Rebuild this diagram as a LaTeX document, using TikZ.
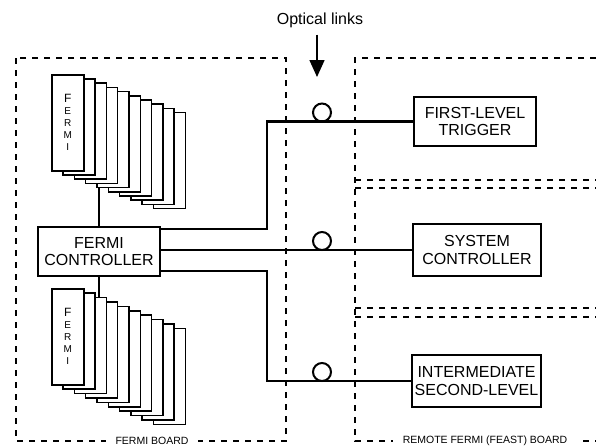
\documentclass[tikz,border=0pt]{standalone}
\usepackage{fontspec}
\setmainfont{Liberation Sans}
\usetikzlibrary{arrows.meta,calc}
\begin{document}
\begin{tikzpicture}[x=1pt,y=-1pt,
  box/.style={draw,line width=1.5pt,inner sep=0pt,align=center,font=\fontsize{16}{17.5}\selectfont},
  card/.style={draw,fill=white,line width=1.5pt,minimum width=32pt,minimum height=96pt,inner sep=0pt,anchor=north west,align=center},
  link/.style={line width=2.4pt},
  bus/.style={line width=2pt},
  dashline/.style={line width=1.6pt,dash pattern=on 6pt off 6pt},
  ring/.style={circle,draw,line width=2pt,minimum size=18pt,inner sep=0pt},
  boardlabel/.style={fill=white,font=\fontsize{10.5}{12}\selectfont,inner xsep=10pt,inner ysep=2pt}
]
\useasboundingbox (0,0) rectangle (596,447);

% boards
\draw[dashline] (16,58) rectangle (286,441);
\node[boardlabel] (fb) at (152,441) {FERMI BOARD};
\draw[dashline] (596,58) -- (355,58) -- (355,441) -- (596,441);
\draw[dashline] (355,180) -- (596,180);
\draw[dashline] (355,188) -- (596,188);
\draw[dashline] (355,308) -- (596,308);
\draw[dashline] (355,317) -- (596,317);
\node[boardlabel] (rb) at (485,441) {REMOTE FERMI (FEAST) BOARD};

% boxes
\node[box,minimum width=122pt,minimum height=49pt] (ctrl) at (99,251.5) {FERMI\\CONTROLLER};
\node[box,minimum width=122pt,minimum height=49pt] (flt) at (475,121.5) {FIRST-LEVEL\\TRIGGER};
\node[box,minimum width=128pt,minimum height=52pt] (sys) at (477,250) {SYSTEM\\CONTROLLER};
\node[box,minimum width=129pt,minimum height=52pt] (ism) at (476.5,381) {INTERMEDIATE\\SECOND-LEVEL};

% card stacks
\foreach \k in {9,8,...,1} {
  \node[card] (t\k) at ({51+11.3*\k},{74+4.2*\k}) {};
}
\node[card] (t0) at (51,74) {\fontsize{12}{15.5}\selectfont F\\E\\R\\M\\I};
\foreach \k in {9,8,...,1} {
  \node[card] (b\k) at ({51+11.3*\k},{288+4.4*\k}) {};
}
\node[card] (b0) at (51,288) {\fontsize{12}{15.5}\selectfont F\\E\\R\\M\\I};

\draw[bus] (ctrl.north) -- (ctrl.north |- t4.south);
\draw[bus] (ctrl.south) -- (ctrl.south |- b2.north);

% links
\coordinate (k1) at (267,121.5);
\coordinate (k3) at (267,381);
\draw[link] ([yshift=-3pt]ctrl.north east) -| (k1) -- (flt.west);
\draw[link] (ctrl.east |- sys.west) -- (sys.west);
\draw[link] ([yshift=6pt]ctrl.south east) -| (k3) -- (ism.west);

% optical links
\node[ring] (o1) at (322,112.5) {};
\node[ring] (o2) at (322,241) {};
\node[ring] (o3) at (322,372) {};
\node[font=\fontsize{16}{18}\selectfont,inner sep=0pt] (opt) at (320,20) {Optical links};
\coordinate (tip) at (317,77);
\draw[line width=1.5pt,-{Triangle[width=15pt,length=17pt]}] ($(opt.south -| tip)+(0,7)$) -- (tip);
\end{tikzpicture}
\end{document}
